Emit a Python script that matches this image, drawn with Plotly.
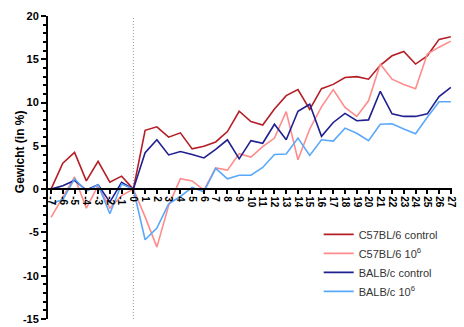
import plotly.graph_objects as go

days = list(range(-7, 28))
day_labels = [str(d) for d in days]

c57_control = [0, 3.0, 4.25, 0.95, 3.2, 0.8, 1.5, 0,
               6.8, 7.2, 6.0, 6.5, 4.65, 4.95, 5.45, 6.65, 9.0, 7.8, 7.4, 9.25, 10.8, 11.5,
               9.2, 11.6, 12.1, 12.9, 13.0, 12.7, 14.3, 15.4, 15.9, 14.45, 15.4, 17.3, 17.6]
c57_1e6 = [-3.25, -1.0, 1.4, -2.2, 0.4, -2.2, -0.75, 0,
           -3.2, -6.7, -1.9, 1.2, 0.95, -0.1, 2.45, 2.2, 4.1, 3.7, 4.9, 5.9, 8.95, 3.4,
           6.95, 9.5, 11.5, 9.45, 8.4, 10.2, 14.45, 12.7, 12.1, 11.6, 15.6, 16.4, 17.1]
balb_control = [0, 0.4, 1.0, -0.1, 0.5, -1.5, 0.8, 0,
                4.2, 5.7, 3.95, 4.35, 4.0, 3.6, 4.6, 5.7, 3.5, 5.6, 5.3, 7.5, 5.7, 9.0,
                9.8, 6.1, 7.7, 8.75, 7.9, 8.0, 11.3, 8.7, 8.4, 8.4, 8.7, 10.7, 11.75]
balb_1e6 = [-1.7, -1.2, 1.2, -0.25, 0.5, -2.85, 0.6, 0,
            -5.85, -4.5, -1.7, -0.85, 0.2, -0.3, 2.4, 1.2, 1.6, 1.6, 2.5, 4.0, 4.05, 5.9,
            3.9, 5.7, 5.55, 7.05, 6.45, 5.6, 7.5, 7.55, 6.95, 6.4, 8.3, 10.1, 10.1]

series_names = ["C57BL/6 control", "C57BL/6 10<sup>6</sup>", "BALB/c control", "BALB/c 10<sup>6</sup>"]
series_values = [c57_control, c57_1e6, balb_control, balb_1e6]
series_colors = ["#B41E24", "#FF8C8C", "#1F1F8F", "#5AA8FA"]

y_ticks = [-15, -10, -5, 0, 5, 10, 15, 20]
y_tick_labels = [str(v) for v in y_ticks]

fig = go.Figure()
for name, vals, col in zip(series_names, series_values, series_colors):
    fig.add_trace(go.Scatter(x=days, y=vals, mode="lines", name=name,
                             line=dict(color=col, width=1.6)))

fig.add_shape(type="line", x0=0, x1=0, y0=-15, y1=20, xref="x", yref="y",
              line=dict(color="#9A9A9A", width=1, dash="1px,2px"), layer="below")

bold = dict(family="Liberation Sans, Arial, sans-serif", color="black", weight="bold")

fig.update_layout(
    width=464, height=327,
    margin=dict(l=48, r=12, t=16, b=8, autoexpand=False),
    plot_bgcolor="white", paper_bgcolor="white",
    font=dict(family="Liberation Sans, Arial, sans-serif", color="black"),
    xaxis=dict(range=[-7.26, 27.1], tickmode="array", tickvals=days, ticktext=day_labels,
               tickangle=90, anchor="free", position=15 / 35, automargin=False,
               showline=True, linecolor="black", linewidth=2,
               ticks="outside", ticklen=4, tickwidth=1.5, tickcolor="black",
               tickfont=dict(size=10, **bold), showgrid=False, zeroline=False),
    yaxis=dict(range=[-15, 20], tickmode="array", tickvals=y_ticks, ticktext=y_tick_labels,
               automargin=False,
               showline=True, linecolor="black", linewidth=2,
               ticks="outside", ticklen=5, tickwidth=1.5, tickcolor="black",
               minor=dict(ticks="outside", ticklen=3, dtick=1, tick0=0,
                          tickcolor="black", tickwidth=1.5),
               tickfont=dict(size=11, **bold), showgrid=False, zeroline=False),
    showlegend=True,
    legend=dict(x=0.67, y=0.327, xanchor="left", yanchor="top",
                font=dict(size=11, color="#333333"), bgcolor="rgba(0,0,0,0)"),
)

fig.add_annotation(text="Gewicht (in %)", xref="paper", yref="paper",
                   x=-0.069, y=0.551, xanchor="center", yanchor="middle",
                   textangle=-90, showarrow=False,
                   font=dict(size=12, **bold))

fig.write_html("out.html")
